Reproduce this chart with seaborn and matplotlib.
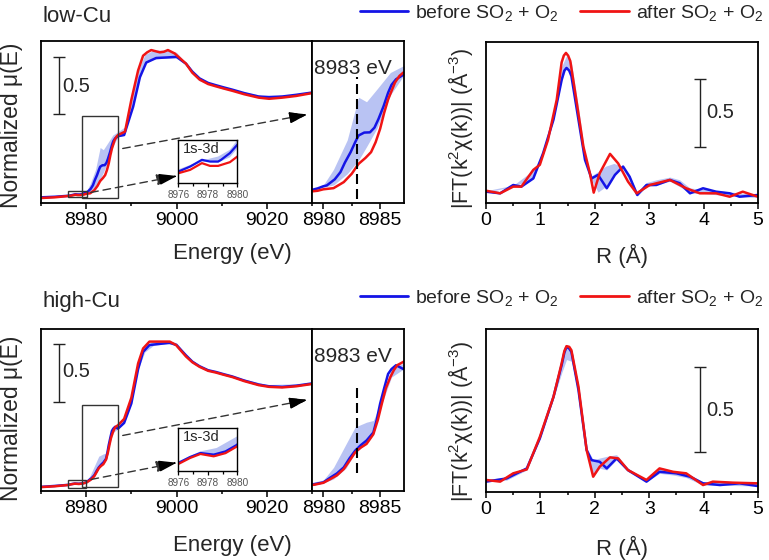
import matplotlib.pyplot as plt
import seaborn as sns
from matplotlib.lines import Line2D
from matplotlib.patches import Rectangle, FancyArrowPatch
from matplotlib.ticker import MultipleLocator, NullLocator

sns.set_theme(style="ticks")
plt.rcParams["font.family"] = ["Liberation Sans", "DejaVu Sans"]
plt.rcParams["mathtext.fontset"] = "custom"
plt.rcParams["mathtext.rm"] = "Liberation Sans"
plt.rcParams["mathtext.default"] = "regular"

BLUE = "#1414e6"
RED = "#f01414"
BAND = "#b9c3f3"

# ---------------- low-Cu XANES (energy in eV, normalized mu) ----------------
lo_E_blue = [8970, 8973, 8976, 8976.8, 8977.6, 8978.15, 8978.7, 8978.9, 8979.5, 8980,
             8980.3, 8981.0, 8981.5, 8981.9, 8982.4, 8982.8, 8983.1, 8983.6, 8984.1, 8984.5,
             8984.85, 8985.3, 8985.7, 8986.0, 8986.4, 8987.05,
             8988.4, 8990.4, 8991.9, 8993.3, 8995.5, 8998, 9000, 9002.1, 9003.5, 9005.1,
             9007, 9008.7, 9010.5, 9012.4, 9015, 9018.2, 9020.5, 9023.4, 9026.5, 9030]
lo_mu_blue = [0.0, 0.005, 0.0135, 0.0193, 0.0271, 0.0251, 0.0251, 0.0271, 0.0349, 0.0445,
              0.048, 0.075, 0.107, 0.15, 0.196, 0.24, 0.27, 0.283, 0.284, 0.305,
              0.343, 0.40, 0.46, 0.495, 0.52, 0.54,
              0.55, 0.80, 1.06, 1.19, 1.23, 1.235, 1.24, 1.18, 1.11, 1.05,
              1.01, 0.99, 0.97, 0.95, 0.92, 0.89, 0.885, 0.89, 0.905, 0.925]
lo_E_red = [8970, 8973, 8976, 8976.8, 8977.6, 8978.15, 8978.7, 8979.5, 8980,
            8980.9, 8981.8, 8982.5, 8983.1, 8983.7, 8984.2, 8984.6, 8985.0, 8985.35, 8985.7,
            8986.3, 8986.7, 8987.05,
            8988.6, 8990, 8991.5, 8992.6, 8993.5, 8994.4, 8996.3, 8997.2, 8998.1, 8999.6,
            9002.1, 9003.5, 9005.1, 9007, 9008.7, 9010.5, 9012.4, 9015, 9018.2, 9020.5,
            9023.4, 9026.5, 9030]
lo_mu_red = [-0.006, 0.0, 0.0116, 0.0155, 0.0233, 0.0201, 0.0201, 0.0244, 0.0309,
             0.036, 0.063, 0.10, 0.144, 0.17, 0.196, 0.24, 0.30, 0.37, 0.43,
             0.505, 0.535, 0.55,
             0.58, 0.86, 1.12, 1.25, 1.28, 1.30, 1.28, 1.285, 1.30, 1.27,
             1.18, 1.10, 1.04, 1.00, 0.98, 0.96, 0.94, 0.91, 0.88, 0.87,
             0.88, 0.895, 0.92]
lo_E_band = [8970, 8976, 8977.6, 8978.7, 8979.5, 8980, 8980.9, 8982.1, 8983.1, 8983.8,
             8984.7, 8985.9, 8987.05, 8988.5, 8990, 8991.5, 8993, 8995, 8998, 9000,
             9002, 9005, 9010, 9020, 9030]
lo_band_hi = [-0.004, 0.016, 0.0263, 0.0309, 0.0387, 0.05, 0.12, 0.25, 0.44, 0.42,
              0.475, 0.55, 0.58, 0.62, 0.88, 1.12, 1.26, 1.30, 1.30, 1.28,
              1.19, 1.05, 0.97, 0.89, 0.925]
lo_band_lo = [-0.006, 0.012, 0.025, 0.024, 0.03, 0.04, 0.05, 0.10, 0.16, 0.22,
              0.30, 0.45, 0.535, 0.55, 0.80, 1.05, 1.18, 1.22, 1.23, 1.23,
              1.17, 1.03, 0.96, 0.88, 0.915]

# ---------------- high-Cu XANES ----------------
hi_E_blue = [8970, 8973, 8976, 8976.8, 8977.5, 8978.4, 8979.2, 8980,
             8980.6, 8981.2, 8981.8, 8982.3, 8982.8, 8983.3, 8983.8, 8984.4, 8984.7,
             8985.0, 8985.35, 8985.7, 8986.0, 8986.4, 8987.05,
             8988.4, 8990, 8991.5, 8992.6, 8994, 8996.3, 8998.5, 9000, 9002.1, 9003.5,
             9005.1, 9007, 9008.7, 9010.5, 9012.4, 9015, 9018.2, 9020.5, 9023.4, 9026.5, 9030]
hi_mu_blue = [-0.008, 0.0, 0.0096, 0.0165, 0.0211, 0.0193, 0.023, 0.0308,
              0.05, 0.068, 0.093, 0.13, 0.162, 0.185, 0.204, 0.237, 0.29,
              0.357, 0.42, 0.48, 0.50, 0.516, 0.50,
              0.55, 0.72, 1.02, 1.17, 1.23, 1.24, 1.25, 1.23, 1.14, 1.085,
              1.045, 1.01, 0.995, 0.975, 0.955, 0.92, 0.885, 0.87, 0.865, 0.875, 0.895]
hi_E_red = [8970, 8973, 8976, 8976.8, 8977.5, 8978.4, 8979.2, 8980,
            8980.6, 8981.2, 8981.8, 8982.3, 8982.8, 8983.3, 8983.8, 8984.4, 8984.8,
            8985.15, 8985.5, 8985.9, 8986.2, 8986.5, 8987.05,
            8988.4, 8990, 8991.5, 8992.6, 8994, 8996.3, 8998.5, 8999.9, 9002.1, 9003.5,
            9005.1, 9007, 9008.7, 9010.5, 9012.4, 9015, 9018.2, 9020.5, 9023.4, 9026.5, 9030]
hi_mu_red = [-0.01, -0.003, 0.0084, 0.0154, 0.020, 0.0173, 0.021, 0.0289,
             0.044, 0.06, 0.086, 0.12, 0.155, 0.175, 0.19, 0.23, 0.29,
             0.357, 0.42, 0.467, 0.495, 0.516, 0.53,
             0.585, 0.77, 1.07, 1.20, 1.26, 1.26, 1.26, 1.23, 1.13, 1.08,
             1.04, 1.005, 0.99, 0.97, 0.95, 0.915, 0.88, 0.865, 0.86, 0.87, 0.89]
hi_E_band = [8970, 8976, 8977.5, 8978.6, 8980, 8980.9, 8982.0, 8982.8, 8983.8, 8984.4,
             8985.15, 8986.0, 8987.05, 8988.4, 8990, 8991.5, 8993, 8995, 8998, 9000,
             9002, 9005, 9010, 9020, 9030]
hi_band_hi = [-0.008, 0.0115, 0.023, 0.0269, 0.0404, 0.093, 0.19, 0.26, 0.28, 0.287,
              0.37, 0.51, 0.523, 0.585, 0.77, 1.07, 1.22, 1.27, 1.27, 1.25,
              1.15, 1.05, 0.98, 0.885, 0.895]
hi_band_lo = [-0.01, 0.009, 0.020, 0.017, 0.029, 0.045, 0.09, 0.155, 0.19, 0.23,
              0.357, 0.467, 0.50, 0.55, 0.72, 1.02, 1.17, 1.23, 1.24, 1.23,
              1.13, 1.04, 0.97, 0.875, 0.885]

# ---------------- low-Cu EXAFS (R in A, |FT|) ----------------
lo_R_blue = [0, 0.26, 0.5, 0.65, 0.87, 1.05, 1.24, 1.39, 1.44, 1.48, 1.53, 1.57, 1.70, 1.82,
             1.94, 2.06, 2.22, 2.37, 2.52, 2.64, 2.78, 2.95, 3.13, 3.38, 3.56, 3.75, 3.99,
             4.23, 4.48, 4.66, 5.0]
lo_ft_blue = [0.083, 0.071, 0.132, 0.12, 0.18, 0.365, 0.61, 0.90, 0.97, 0.99, 0.97, 0.93, 0.61,
              0.316, 0.18, 0.206, 0.108, 0.206, 0.267, 0.193, 0.059, 0.132, 0.132, 0.169, 0.145,
              0.071, 0.108, 0.083, 0.071, 0.046, 0.059]
lo_R_red = [0, 0.26, 0.5, 0.65, 0.87, 0.99, 1.14, 1.30, 1.39, 1.43, 1.47, 1.51, 1.55, 1.66,
            1.79, 1.91, 1.98, 2.09, 2.28, 2.43, 2.61, 2.77, 3.01, 3.38, 3.68, 3.93, 4.23,
            4.48, 4.72, 5.0]
lo_ft_red = [0.09, 0.071, 0.12, 0.12, 0.243, 0.28, 0.463, 0.757, 1.03, 1.08, 1.10, 1.08, 1.04,
             0.757, 0.414, 0.218, 0.076, 0.218, 0.36, 0.29, 0.157, 0.071, 0.132, 0.169, 0.108,
             0.071, 0.071, 0.046, 0.083, 0.046]
lo_R_band = [0, 0.5, 0.87, 1.05, 1.24, 1.39, 1.48, 1.57, 1.70, 1.82, 1.94, 2.06, 2.2,
             2.35, 2.5, 2.64, 2.78, 2.95, 3.13, 3.38, 3.56, 3.75, 4.0, 4.5, 5.0]
lo_ftband_hi = [0.09, 0.13, 0.24, 0.37, 0.66, 1.0, 1.08, 1.03, 0.7, 0.36, 0.2, 0.23, 0.27,
                0.29, 0.27, 0.2, 0.08, 0.15, 0.17, 0.19, 0.17, 0.11, 0.1, 0.08, 0.06]
lo_ftband_lo = [0.08, 0.12, 0.18, 0.36, 0.61, 0.90, 0.99, 0.93, 0.61, 0.32, 0.17, 0.08, 0.12,
                0.2, 0.26, 0.16, 0.05, 0.12, 0.13, 0.16, 0.12, 0.07, 0.07, 0.05, 0.04]

# ---------------- high-Cu EXAFS ----------------
hi_R_blue = [0, 0.38, 0.75, 0.99, 1.24, 1.39, 1.44, 1.48, 1.53, 1.57, 1.70, 1.85, 1.94,
             2.09, 2.22, 2.40, 2.61, 2.95, 3.19, 3.5, 3.75, 3.99, 4.3, 4.66, 5.0]
hi_ft_blue = [0.061, 0.08, 0.139, 0.316, 0.56, 0.747, 0.82, 0.855, 0.845, 0.825, 0.60, 0.247,
              0.188, 0.178, 0.139, 0.198, 0.129, 0.061, 0.119, 0.11, 0.09, 0.051, 0.041, 0.051,
              0.035]
hi_R_red = [0, 0.26, 0.5, 0.75, 0.99, 1.24, 1.39, 1.44, 1.48, 1.53, 1.57, 1.70, 1.85, 1.97,
            2.09, 2.28, 2.43, 2.61, 2.95, 3.19, 3.44, 3.68, 3.99, 4.17, 4.54, 5.0]
hi_ft_red = [0.071, 0.061, 0.11, 0.133, 0.325, 0.56, 0.757, 0.83, 0.859, 0.855, 0.835, 0.62,
             0.247, 0.09, 0.149, 0.204, 0.198, 0.129, 0.071, 0.139, 0.119, 0.11, 0.041, 0.061,
             0.055, 0.051]
hi_R_band = [0, 0.38, 0.75, 0.99, 1.24, 1.39, 1.48, 1.57, 1.70, 1.85, 1.97, 2.09, 2.22,
             2.4, 2.61, 2.95, 3.19, 3.44, 3.68, 3.99, 4.3, 5.0]
hi_ftband_hi = [0.075, 0.085, 0.14, 0.33, 0.565, 0.76, 0.86, 0.84, 0.625, 0.26, 0.19, 0.20, 0.21,
                0.22, 0.14, 0.075, 0.145, 0.125, 0.115, 0.06, 0.065, 0.055]
hi_ftband_lo = [0.06, 0.07, 0.13, 0.31, 0.55, 0.70, 0.78, 0.77, 0.58, 0.24, 0.09, 0.14, 0.13,
                0.19, 0.12, 0.06, 0.11, 0.10, 0.085, 0.04, 0.04, 0.035]

legend_labels = ["before SO$_2$ + O$_2$", "after SO$_2$ + O$_2$"]

W, H = 769, 560
fig = plt.figure(figsize=(W / 100, H / 100), dpi=100)


def box(x0, y0, x1, y1):
    # pixel box (top-left origin) -> figure fraction rect
    return [x0 / W, 1 - y1 / H, (x1 - x0) / W, (y1 - y0) / H]


def fpt(x, y):
    return (x / W, 1 - y / H)


def style_axis(ax, lw=1.3):
    for s in ax.spines.values():
        s.set_visible(True)
        s.set_linewidth(lw)
        s.set_color("black")
    ax.set_facecolor("white")
    ax.yaxis.set_major_locator(NullLocator())
    ax.yaxis.set_minor_locator(NullLocator())
    ax.tick_params(axis="x", which="both", direction="out", width=1.1, pad=2,
                   labelsize=14, colors="black", top=False)
    ax.tick_params(axis="x", which="major", length=4.5)
    ax.tick_params(axis="x", which="minor", length=2.5)
    ax.set_xlabel("")
    ax.set_ylabel("")


def curves(ax, Eb, mb, Er, mr, Eband, blo, bhi, lw=1.8):
    ax.fill_between(Eband, blo, bhi, color=BAND, lw=0)
    sns.lineplot(x=Eb, y=mb, ax=ax, color=BLUE, lw=lw, estimator=None, sort=False)
    sns.lineplot(x=Er, y=mr, ax=ax, color=RED, lw=lw, estimator=None, sort=False)


def xanes_row(top, main_ylim, zoom_ylim, data, big_rect, small_rect, vline, tag_y,
              arrows, bar_mid, bar_label_y):
    Eb, mb, Er, mr, Eband, blo, bhi = data
    main = fig.add_axes(box(41, top, 312, top + 162))
    curves(main, Eb, mb, Er, mr, Eband, blo, bhi)
    main.set_xlim(8970, 9030)
    main.set_ylim(*main_ylim)
    main.xaxis.set_major_locator(MultipleLocator(20))
    main.xaxis.set_minor_locator(MultipleLocator(10))
    style_axis(main)
    main.add_patch(Rectangle((big_rect[0], big_rect[1]), big_rect[2], big_rect[3],
                             fill=False, ec="#333333", lw=1.0, zorder=5))
    main.add_patch(Rectangle((small_rect[0], small_rect[1]), small_rect[2], small_rect[3],
                             fill=False, ec="#333333", lw=1.0, zorder=5))
    main.errorbar([8973.9], [bar_mid], yerr=[0.25], color="#222222", lw=1.0,
                  capsize=4, capthick=1.0)
    main.text(8974.8, bar_label_y, "0.5", fontsize=14.5, va="center", ha="left")

    zoom = fig.add_axes(box(312, top, 404, top + 162))
    curves(zoom, Eb, mb, Er, mr, Eband, blo, bhi)
    zoom.set_xlim(8979, 8987.1)
    zoom.set_ylim(*zoom_ylim)
    zoom.xaxis.set_major_locator(MultipleLocator(5))
    zoom.xaxis.set_minor_locator(MultipleLocator(2.5))
    style_axis(zoom)
    zoom.plot([8983, 8983], vline, color="black", lw=1.5, ls=(0, (4.8, 2.4)), zorder=6)
    zoom.text(8979.2, tag_y, "8983 eV", fontsize=15, va="center", ha="left")

    ins = fig.add_axes(box(178.3, top + 99, 237.3, top + 142.3))
    curves(ins, Eb, mb, Er, mr, Eband, blo, bhi, lw=1.6)
    ins.set_xlim(8976, 8980)
    ins.set_ylim(0, 0.05)
    ins.xaxis.set_major_locator(MultipleLocator(2))
    ins.xaxis.set_minor_locator(MultipleLocator(1))
    style_axis(ins, lw=1.0)
    ins.tick_params(axis="x", which="both", labelsize=7.2, labelcolor="#555555", pad=1.5,
                    width=0.9)
    ins.tick_params(axis="x", which="major", length=3)
    ins.tick_params(axis="x", which="minor", length=2)
    ins.text(0.07, 0.8, "1s-3d", transform=ins.transAxes, fontsize=10.5,
             va="center", ha="left")

    for (x0, y0), (x1, y1) in arrows:
        p0, p1 = fpt(x0, y0), fpt(x1, y1)
        fig.add_artist(FancyArrowPatch(p0, p1, transform=fig.transFigure,
                                       arrowstyle="-|>,head_length=0.9,head_width=0.28",
                                       mutation_scale=12, lw=1.0, color="#333333",
                                       linestyle=(0, (5.5, 3.5)), zorder=10))
        # solid head on top
        dx, dy = p1[0] - p0[0], p1[1] - p0[1]
        fig.add_artist(FancyArrowPatch((p1[0] - 0.06 * dx, p1[1] - 0.06 * dy), p1,
                                       transform=fig.transFigure,
                                       arrowstyle="-|>,head_length=0.9,head_width=0.28",
                                       mutation_scale=12, lw=1.0, color="black", zorder=11))


def exafs_row(rect, ylim, data, bar_mid, bar_label_y):
    Rb, fb, Rr, fr, Rband, blo, bhi = data
    ax = fig.add_axes(box(*rect))
    curves(ax, Rb, fb, Rr, fr, Rband, blo, bhi)
    ax.set_xlim(0, 5)
    ax.set_ylim(*ylim)
    ax.xaxis.set_major_locator(MultipleLocator(1))
    ax.xaxis.set_minor_locator(MultipleLocator(0.5))
    style_axis(ax)
    ax.errorbar([3.93], [bar_mid], yerr=[0.25], color="#222222", lw=1.0,
                capsize=4.2, capthick=1.0)
    ax.text(4.05, bar_label_y, "0.5", fontsize=14.5, va="center", ha="left")


# ---- top row: low-Cu ----
xanes_row(41, (-0.05, 1.38), (-0.03, 0.69),
          (lo_E_blue, lo_mu_blue, lo_E_red, lo_mu_red, lo_E_band, lo_band_lo, lo_band_hi),
          (8979.1, -0.01, 7.9, 0.73), (8976.0, 0.0, 4.2, 0.053), (-0.01, 0.53), 0.57,
          [((120, 149), (310, 114)), ((88, 193), (177, 176))], 0.987, 0.98)
exafs_row((486, 42, 758, 203), (0, 1.18),
          (lo_R_blue, lo_ft_blue, lo_R_red, lo_ft_red, lo_R_band, lo_ftband_lo, lo_ftband_hi),
          0.662, 0.664)

# ---- bottom row: high-Cu ----
xanes_row(329, (-0.044, 1.37), (-0.005, 0.666),
          (hi_E_blue, hi_mu_blue, hi_E_red, hi_mu_red, hi_E_band, hi_band_lo, hi_band_hi),
          (8979.05, -0.01, 8.05, 0.718), (8976.0, -0.02, 4.0, 0.07), (0.07, 0.433), 0.554,
          [((120, 436), (310, 399.3)), ((88.3, 480), (176.7, 462.7))], 0.987, 1.0)
exafs_row((486, 329, 758, 492), (0, 0.96),
          (hi_R_blue, hi_ft_blue, hi_R_red, hi_ft_red, hi_R_band, hi_ftband_lo, hi_ftband_hi),
          0.485, 0.482)

# ---- labels ----
handles = [Line2D([], [], color=BLUE, lw=2), Line2D([], [], color=RED, lw=2)]
for tag, ty in (("low-Cu", 17), ("high-Cu", 302)):
    fig.text(*fpt(42, ty), tag, fontsize=16, ha="left", va="center")
    fig.legend(handles, legend_labels, loc="center right", bbox_to_anchor=fpt(763, ty - 4),
               ncol=2, frameon=False, fontsize=14, handlelength=2.5, handletextpad=0.35,
               columnspacing=1.1, borderpad=0, borderaxespad=0)
for ly in (253, 545):
    fig.text(*fpt(232, ly), "Energy (eV)", fontsize=16, ha="center", va="center")
    fig.text(*fpt(622, ly + 3), "R (Å)", fontsize=16, ha="center", va="center")
for cy in (125, 418):
    fig.text(*fpt(12, cy), "Normalized μ(E)", fontsize=16.5, rotation=90,
             ha="center", va="center")
    fig.text(*fpt(460, cy + 3), "|FT(k$^2$χ(k))| (Å$^{-3}$)", fontsize=15.5, rotation=90,
             ha="center", va="center")

fig.savefig("out.png", dpi=100)
